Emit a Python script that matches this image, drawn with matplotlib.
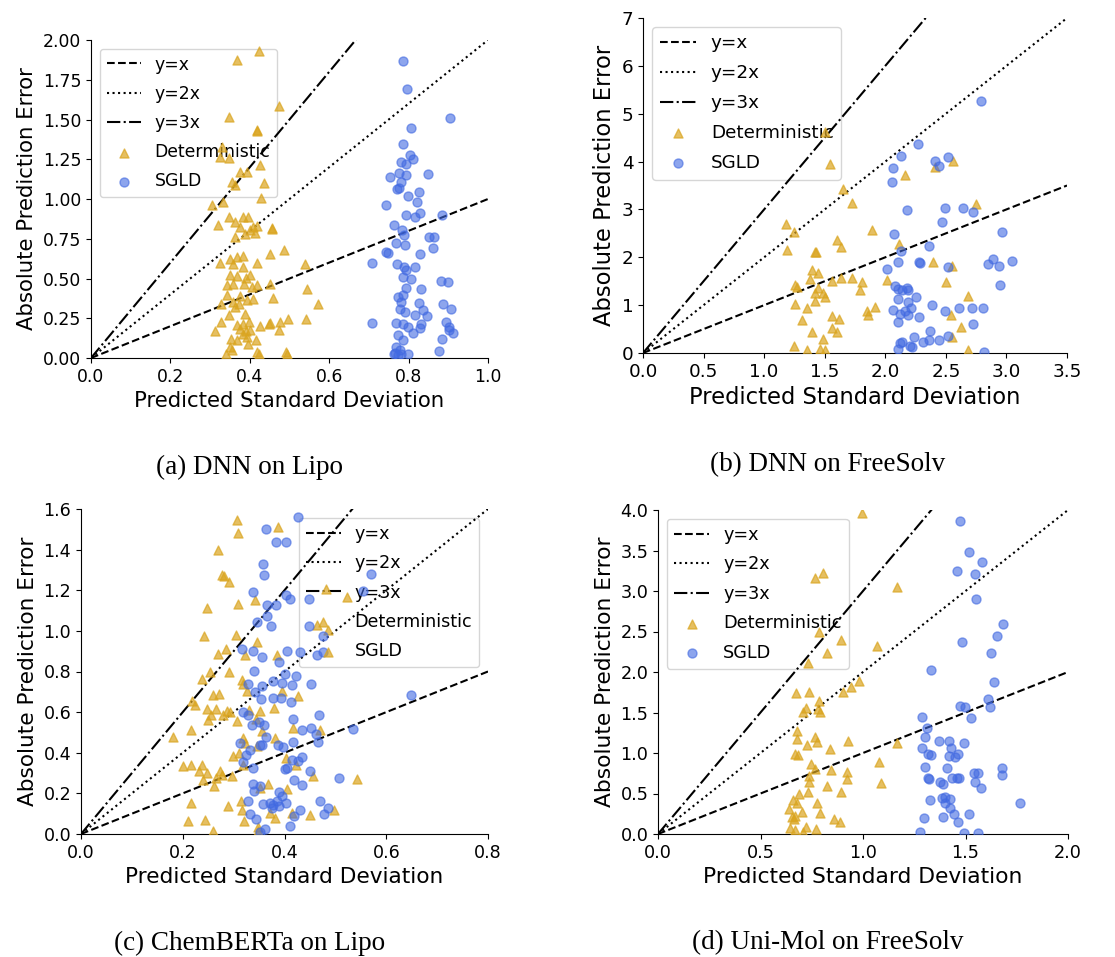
import matplotlib
matplotlib.use("Agg")
import matplotlib.pyplot as plt
import numpy as np

plt.rcParams['font.family'] = ['DejaVu Sans']

# ---------------- data ----------------
# (a) DNN on Lipo
a_det_x = [0.424,0.369,0.474,0.347,0.419,0.419,0.329,0.325,0.348,0.425,0.375,0.392,0.356,0.362,0.435,0.429,
           0.305,0.332,0.347,0.362,0.382,0.396,0.321,0.375,0.409,0.419,0.456,0.456,0.389,0.413,0.400,0.362,
           0.485,0.450,0.350,0.367,0.384,0.358,0.325,0.417,0.540,0.384,0.350,0.367,0.390,0.400,0.342,0.358,
           0.386,0.405,0.419,0.450,0.545,0.342,0.375,0.409,0.459,0.328,0.358,0.372,0.393,0.572,0.362,0.348,
           0.388,0.328,0.367,0.382,0.398,0.450,0.475,0.497,0.541,0.425,0.448,0.312,0.390,0.400,0.474,0.352,
           0.369,0.392,0.415,0.396,0.350,0.356,0.341,0.419,0.422,0.491,0.494,0.375,0.384]
a_det_y = [1.933,1.874,1.584,1.513,1.433,1.430,1.328,1.266,1.255,1.213,1.167,1.167,1.108,1.087,1.098,1.007,
           0.961,0.978,0.888,0.856,0.888,0.888,0.835,0.825,0.825,0.831,0.818,0.814,0.783,0.787,0.804,0.762,
           0.682,0.657,0.625,0.636,0.642,0.594,0.598,0.600,0.594,0.573,0.520,0.514,0.506,0.520,0.457,0.468,
           0.468,0.447,0.462,0.464,0.432,0.395,0.388,0.374,0.378,0.342,0.353,0.342,0.363,0.342,0.321,0.269,
           0.279,0.227,0.206,0.216,0.227,0.220,0.227,0.248,0.248,0.199,0.216,0.170,0.170,0.174,0.174,0.122,
           0.111,0.132,0.111,0.090,0.069,0.052,0.027,0.038,0.027,0.038,0.027,0.185,0.153]
a_sgld_x = [0.786,0.796,0.904,0.805,0.786,0.803,0.811,0.782,0.794,0.754,0.776,0.793,0.849,0.782,0.772,0.775,
            0.798,0.825,0.742,0.822,0.794,0.815,0.828,0.885,0.763,0.783,0.788,0.790,0.768,0.852,0.864,0.862,
            0.742,0.748,0.708,0.772,0.788,0.794,0.815,0.828,0.786,0.805,0.881,0.898,0.793,0.832,0.774,0.786,
            0.780,0.778,0.792,0.826,0.836,0.847,0.815,0.887,0.908,0.708,0.769,0.786,0.799,0.832,0.828,0.811,
            0.893,0.903,0.911,0.903,0.774,0.786,0.885,0.769,0.778,0.766,0.782,0.799,0.876,0.774,0.763]
a_sgld_y = [1.868,1.694,1.507,1.448,1.343,1.276,1.249,1.234,1.223,1.140,1.165,1.150,1.156,1.108,1.060,1.070,
            1.020,1.041,0.961,0.978,0.898,0.884,0.909,0.902,0.835,0.808,0.772,0.709,0.726,0.762,0.762,0.693,
            0.667,0.663,0.598,0.594,0.573,0.552,0.573,0.653,0.510,0.499,0.485,0.478,0.443,0.437,0.384,0.395,
            0.353,0.311,0.290,0.346,0.300,0.262,0.269,0.338,0.311,0.220,0.222,0.216,0.195,0.216,0.191,0.159,
            0.227,0.195,0.157,0.175,0.143,0.111,0.118,0.069,0.048,0.031,0.023,0.027,0.042,0.021,0.027]

# (b) DNN on FreeSolv
b_det_x = [1.503,1.544,1.654,1.728,1.181,1.250,1.893,1.192,1.420,1.432,1.599,1.635,2.162,2.410,2.560,2.747,
           2.115,1.398,1.448,1.379,1.558,1.635,1.723,1.810,2.016,1.255,1.275,1.420,1.489,1.448,1.503,1.791,
           1.420,1.255,1.352,1.846,1.915,1.860,1.310,1.558,1.621,1.558,1.604,1.398,1.489,1.250,1.352,1.462,
           1.503,2.396,2.505,2.547,2.541,2.684,2.629,2.552,2.679]
b_det_y = [4.61,3.95,3.43,3.13,2.69,2.53,2.56,2.16,2.12,2.11,2.37,2.21,3.71,3.88,4.02,3.12,
           2.28,1.74,1.67,1.55,1.50,1.57,1.57,1.48,1.53,1.43,1.37,1.25,1.25,1.36,1.18,1.32,
           1.08,1.02,0.93,0.88,0.97,0.80,0.68,0.78,0.71,0.52,0.43,0.43,0.30,0.15,0.07,0.08,
           0.07,1.90,1.48,1.81,0.80,1.20,0.54,0.33,0.07]
b_sgld_x = [2.786,2.272,2.126,2.060,2.052,2.410,2.445,2.514,2.181,2.492,2.643,2.725,2.470,2.074,2.964,2.363,
            2.126,2.107,2.277,2.285,2.016,2.514,2.890,3.047,2.849,2.937,2.945,2.080,2.107,2.135,2.176,2.190,
            2.107,2.250,2.190,2.387,2.060,2.121,2.162,2.212,2.190,2.102,2.280,2.492,2.607,2.717,2.808,2.725,
            2.135,2.121,2.203,2.239,2.313,2.368,2.363,2.442,2.519,2.107,2.816,2.217]
b_sgld_y = [5.26,4.37,4.11,3.86,3.57,4.02,3.90,4.10,2.98,3.04,3.02,2.94,2.74,2.49,2.53,2.23,
            2.14,1.90,1.90,1.88,1.75,1.80,1.97,1.93,1.86,1.82,1.43,1.41,1.34,1.32,1.36,1.32,
            1.13,1.16,1.06,1.01,0.89,0.82,0.87,0.94,0.79,0.65,0.75,0.87,0.94,0.94,0.93,0.61,
            0.23,0.21,0.14,0.33,0.24,0.47,0.28,0.28,0.35,0.09,0.03,0.12]

# (c) ChemBERTa on Lipo
c_det_x = [0.306,0.308,0.388,0.270,0.278,0.291,0.281,0.247,0.308,0.342,0.482,0.522,0.241,0.305,0.345,0.463,
           0.485,0.270,0.285,0.322,0.385,0.486,0.253,0.238,0.291,0.316,0.319,0.260,0.272,0.219,0.224,0.326,
           0.396,0.426,0.247,0.265,0.256,0.286,0.279,0.293,0.250,0.306,0.352,0.380,0.330,0.216,0.344,0.417,
           0.469,0.355,0.180,0.319,0.381,0.322,0.345,0.311,0.299,0.403,0.423,0.200,0.216,0.238,0.232,0.247,
           0.273,0.278,0.266,0.240,0.261,0.296,0.318,0.457,0.542,0.368,0.404,0.352,0.217,0.289,0.314,0.316,
           0.371,0.381,0.210,0.243,0.320,0.414,0.450,0.498,0.260,0.347,0.348]
c_det_y = [1.547,1.482,1.511,1.400,1.277,1.239,1.270,1.113,1.132,1.154,1.206,1.165,0.973,0.978,0.944,1.027,
           1.006,0.886,0.912,0.883,0.883,0.894,0.796,0.763,0.796,0.760,0.740,0.686,0.689,0.653,0.637,0.702,
           0.702,0.678,0.615,0.615,0.587,0.607,0.587,0.600,0.563,0.555,0.604,0.620,0.610,0.514,0.566,0.522,
           0.514,0.505,0.478,0.473,0.473,0.448,0.432,0.399,0.382,0.374,0.338,0.333,0.338,0.341,0.309,0.300,
           0.309,0.292,0.276,0.267,0.235,0.287,0.341,0.284,0.271,0.248,0.223,0.226,0.153,0.139,0.161,0.120,
           0.103,0.079,0.062,0.067,0.062,0.103,0.095,0.120,0.013,0.034,0.016]
c_sgld_x = [0.426,0.364,0.383,0.402,0.358,0.360,0.570,0.555,0.339,0.403,0.410,0.449,0.365,0.383,0.365,0.345,
            0.373,0.449,0.475,0.316,0.339,0.355,0.404,0.431,0.463,0.390,0.340,0.400,0.423,0.329,0.355,0.377,
            0.396,0.414,0.453,0.342,0.354,0.377,0.393,0.413,0.649,0.318,0.328,0.349,0.360,0.417,0.467,0.337,
            0.434,0.452,0.462,0.534,0.363,0.416,0.466,0.313,0.332,0.352,0.356,0.388,0.398,0.324,0.414,0.434,
            0.427,0.319,0.339,0.401,0.404,0.450,0.507,0.419,0.435,0.339,0.341,0.352,0.390,0.396,0.328,0.358,
            0.371,0.378,0.385,0.403,0.375,0.390,0.470,0.486,0.431,0.477,0.419,0.332,0.344,0.410,0.362,0.352]
c_sgld_y = [1.561,1.503,1.438,1.438,1.331,1.277,1.280,1.195,1.191,1.178,1.158,1.158,1.129,1.126,1.072,1.042,
            1.022,1.022,0.973,0.912,0.903,0.870,0.899,0.896,0.883,0.847,0.804,0.788,0.776,0.738,0.727,0.752,
            0.743,0.735,0.740,0.699,0.666,0.670,0.670,0.650,0.686,0.601,0.587,0.551,0.535,0.566,0.584,0.538,
            0.514,0.522,0.494,0.519,0.476,0.453,0.451,0.448,0.415,0.437,0.440,0.437,0.427,0.391,0.366,0.377,
            0.358,0.354,0.325,0.322,0.324,0.309,0.276,0.267,0.243,0.246,0.210,0.235,0.207,0.189,0.161,0.148,
            0.153,0.144,0.161,0.153,0.128,0.136,0.164,0.128,0.120,0.100,0.087,0.098,0.075,0.038,0.025,0.008]

# (d) Uni-Mol on FreeSolv
d_det_x = [0.996,0.806,0.766,1.168,0.786,0.892,1.066,0.822,0.732,0.980,0.941,0.903,0.675,0.736,0.784,0.724,
           0.708,0.781,0.789,0.680,0.679,0.765,0.778,0.727,0.928,1.167,0.667,0.683,0.838,0.744,0.768,0.843,
           0.923,1.077,0.737,0.737,0.921,1.087,0.822,0.733,0.687,0.895,0.659,0.680,0.778,0.640,0.700,0.789,
           0.654,0.664,0.667,0.859,0.887,0.646,0.667,0.721,0.773,0.708]
d_det_y = [3.959,3.218,3.156,3.053,2.490,2.395,2.325,2.239,2.107,1.893,1.819,1.749,1.737,1.749,1.642,1.551,
           1.510,1.539,1.502,1.272,1.169,1.202,1.140,1.099,1.148,1.119,0.984,0.975,1.045,0.864,0.798,0.790,
           0.770,0.893,0.720,0.646,0.679,0.626,0.593,0.523,0.490,0.514,0.420,0.387,0.387,0.305,0.276,0.255,
           0.206,0.181,0.222,0.181,0.152,0.070,0.049,0.091,0.058,0.029]
d_sgld_x = [1.473,1.518,1.580,1.458,1.546,1.552,1.684,1.652,1.481,1.622,1.334,1.640,1.608,1.620,1.473,1.498,
            1.528,1.289,1.310,1.302,1.370,1.419,1.492,1.289,1.429,1.318,1.330,1.421,1.448,1.465,1.302,1.411,
            1.676,1.679,1.318,1.323,1.375,1.392,1.432,1.457,1.468,1.543,1.562,1.546,1.576,1.383,1.402,1.425,
            1.326,1.766,1.400,1.425,1.443,1.518,1.298,1.392,1.465,1.277,1.492,1.562]
d_sgld_y = [3.868,3.477,3.354,3.247,3.206,2.897,2.588,2.449,2.366,2.230,2.025,1.872,1.667,1.572,1.584,1.572,
            1.436,1.449,1.305,1.193,1.152,1.152,1.119,1.066,1.058,0.984,0.975,0.963,0.955,0.988,0.823,0.811,
            0.811,0.728,0.687,0.680,0.646,0.613,0.695,0.695,0.687,0.757,0.749,0.646,0.564,0.449,0.461,0.428,
            0.420,0.387,0.379,0.317,0.243,0.247,0.193,0.214,0.144,0.021,0.016,0.008]

line_slopes = [1, 2, 3]
line_labels = ['y=x', 'y=2x', 'y=3x']
series_labels = ['Deterministic', 'SGLD']
xlabel = 'Predicted Standard Deviation'
ylabel = 'Absolute Prediction Error'
captions = ['(a) DNN on Lipo', '(b) DNN on FreeSolv', '(c) ChemBERTa on Lipo', '(d) Uni-Mol on FreeSolv']

# ---------------- figure ----------------
W, H = 1115, 957
fig = plt.figure(figsize=(W / 100, H / 100), dpi=100)

def rect(l, t, r, b):
    return [l / W, 1 - b / H, (r - l) / W, (b - t) / H]

panels = [
    dict(box=(91, 40, 488, 358), xlim=1.0, ylim=2.0, xt=np.arange(0, 1.01, 0.2), yt=np.arange(0, 2.01, 0.25),
         yfmt='{:.2f}', xfmt='{:.1f}', det=(a_det_x, a_det_y), sgld=(a_sgld_x, a_sgld_y),
         loc='upper left', tfs=12.4, lfs=15.3, cap=(250, 467)),
    dict(box=(643, 18, 1067, 353), xlim=3.5, ylim=7.0, xt=np.arange(0, 3.51, 0.5), yt=np.arange(0, 7.01, 1),
         yfmt='{:.0f}', xfmt='{:.1f}', det=(b_det_x, b_det_y), sgld=(b_sgld_x, b_sgld_y),
         loc='upper left', tfs=13.2, lfs=16.3, cap=(828, 465)),
    dict(box=(81, 509, 488, 834), xlim=0.8, ylim=1.6, xt=np.arange(0, 0.81, 0.2), yt=np.arange(0, 1.61, 0.2),
         yfmt='{:.1f}', xfmt='{:.1f}', det=(c_det_x, c_det_y), sgld=(c_sgld_x, c_sgld_y),
         loc='upper right', tfs=12.6, lfs=15.6, cap=(250, 943)),
    dict(box=(658, 510, 1068, 834), xlim=2.0, ylim=4.0, xt=np.arange(0, 2.01, 0.5), yt=np.arange(0, 4.01, 0.5),
         yfmt='{:.1f}', xfmt='{:.1f}', det=(d_det_x, d_det_y), sgld=(d_sgld_x, d_sgld_y),
         loc='upper left', tfs=12.7, lfs=15.7, cap=(828, 943)),
]

styles = ['--', ':', '-.']

for p, caption in zip(panels, captions):
    ax = fig.add_axes(rect(*p['box']))
    xs = np.array([0, p['xlim']])
    for k, ls, lab in zip(line_slopes, styles, line_labels):
        ax.plot(xs, k * xs, color='black', linestyle=ls, linewidth=1.5, label=lab, zorder=3)
    ax.scatter(p['det'][0], p['det'][1], marker='^', s=42, color='goldenrod', alpha=0.7,
               label=series_labels[0], zorder=4)
    ax.scatter(p['sgld'][0], p['sgld'][1], marker='o', s=42, color='royalblue', alpha=0.6,
               label=series_labels[1], zorder=4)
    ax.set_xlim(0, p['xlim'])
    ax.set_ylim(0, p['ylim'])
    ax.set_xticks(p['xt'])
    ax.set_yticks(p['yt'])
    ax.set_xticklabels([p['xfmt'].format(v) for v in p['xt']])
    ax.set_yticklabels([p['yfmt'].format(v) for v in p['yt']])
    ax.tick_params(labelsize=p['tfs'])
    ax.set_xlabel(xlabel, fontsize=p['lfs'])
    ax.set_ylabel(ylabel, fontsize=p['lfs'])
    for s in ['top', 'right']:
        ax.spines[s].set_visible(False)
    leg = ax.legend(loc=p['loc'], fontsize=p['tfs'], labelspacing=0.65)
    leg.set_zorder(2)
    cx, cy = p['cap']
    fig.text(cx / W, 1 - cy / H, caption, family='Liberation Serif', fontsize=19.5,
             ha='center', va='center')

fig.savefig('out.png', dpi=100)
